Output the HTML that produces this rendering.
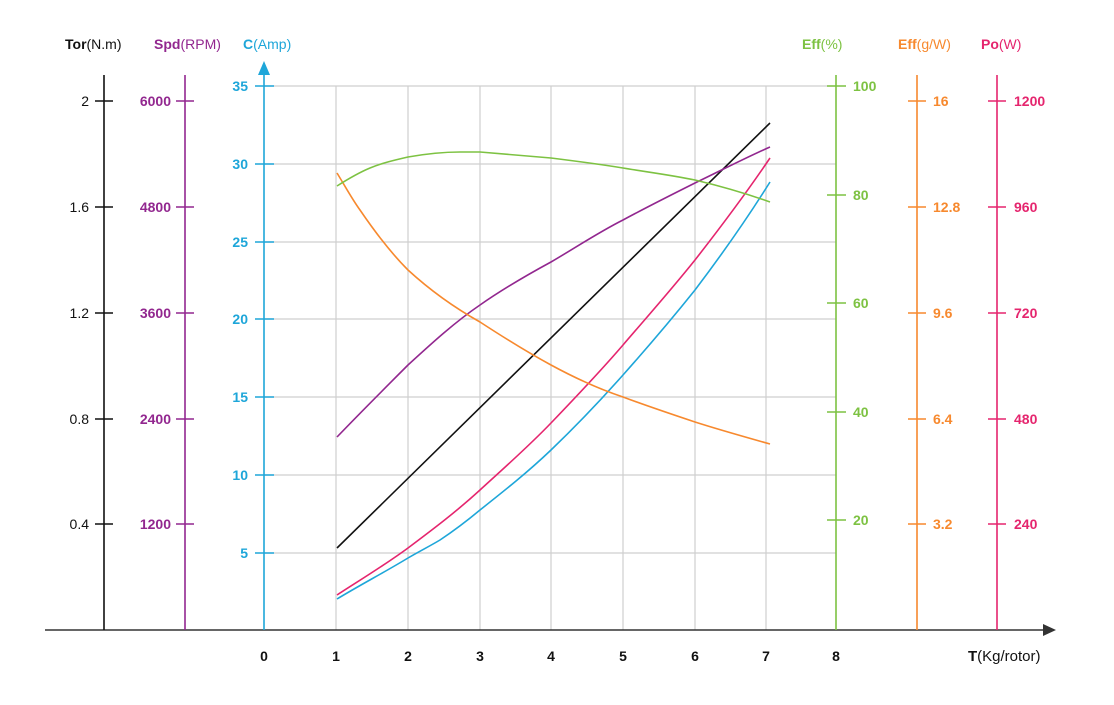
<!DOCTYPE html>
<html><head><meta charset="utf-8"><style>
html,body{margin:0;padding:0;background:#fff;}
svg text{font-family:"Liberation Sans",sans-serif;font-size:14px;}
</style></head><body>
<svg width="1114" height="700" viewBox="0 0 1114 700" xmlns="http://www.w3.org/2000/svg">
<!-- grid -->
<g stroke="#cfcfcf" stroke-width="1.2">
<line x1="336" y1="86" x2="336" y2="630"/><line x1="408" y1="86" x2="408" y2="630"/>
<line x1="480" y1="86" x2="480" y2="630"/><line x1="551" y1="86" x2="551" y2="630"/>
<line x1="623" y1="86" x2="623" y2="630"/><line x1="695" y1="86" x2="695" y2="630"/>
<line x1="766" y1="86" x2="766" y2="630"/>
<line x1="264" y1="86" x2="836" y2="86"/><line x1="264" y1="164" x2="836" y2="164"/>
<line x1="264" y1="242" x2="836" y2="242"/><line x1="264" y1="319" x2="836" y2="319"/>
<line x1="264" y1="397" x2="836" y2="397"/><line x1="264" y1="475" x2="836" y2="475"/>
<line x1="264" y1="553" x2="836" y2="553"/>
</g>
<!-- x axis -->
<line x1="45" y1="630" x2="1048" y2="630" stroke="#333" stroke-width="1.5"/>
<polygon points="1056,630 1043,624 1043,636" fill="#333"/>
<g font-weight="bold" fill="#111" text-anchor="middle" style="font-size:15px">
<text x="264" y="661">0</text><text x="336" y="661">1</text><text x="408" y="661">2</text><text x="480" y="661">3</text><text x="551" y="661">4</text><text x="623" y="661">5</text><text x="695" y="661">6</text><text x="766" y="661">7</text><text x="836" y="661">8</text>
</g>
<text x="968" y="661" fill="#111" style="font-size:15px"><tspan font-weight="bold">T</tspan>(Kg/rotor)</text>
<!-- Tor -->
<g stroke="#111" stroke-width="1.6"><line x1="104" y1="75" x2="104" y2="630"/>
<line x1="95" y1="101" x2="113" y2="101"/><line x1="95" y1="207" x2="113" y2="207"/><line x1="95" y1="313" x2="113" y2="313"/><line x1="95" y1="419" x2="113" y2="419"/><line x1="95" y1="524" x2="113" y2="524"/></g>
<g fill="#111" text-anchor="end"><text x="89" y="106">2</text><text x="89" y="212">1.6</text><text x="89" y="318">1.2</text><text x="89" y="424">0.8</text><text x="89" y="529">0.4</text></g>
<text x="65" y="49" fill="#111"><tspan font-weight="bold">Tor</tspan>(N.m)</text>
<!-- Spd -->
<g stroke="#92278f" stroke-width="1.6"><line x1="185" y1="75" x2="185" y2="630"/>
<line x1="176" y1="101" x2="194" y2="101"/><line x1="176" y1="207" x2="194" y2="207"/><line x1="176" y1="313" x2="194" y2="313"/><line x1="176" y1="419" x2="194" y2="419"/><line x1="176" y1="524" x2="194" y2="524"/></g>
<g fill="#92278f" text-anchor="end" font-weight="bold"><text x="171" y="106">6000</text><text x="171" y="212">4800</text><text x="171" y="318">3600</text><text x="171" y="424">2400</text><text x="171" y="529">1200</text></g>
<text x="154" y="49" fill="#92278f"><tspan font-weight="bold">Spd</tspan>(RPM)</text>
<!-- Amp -->
<g stroke="#1ea6d9" stroke-width="1.6"><line x1="264" y1="70" x2="264" y2="630"/>
<line x1="255" y1="86" x2="274" y2="86"/><line x1="255" y1="164" x2="274" y2="164"/><line x1="255" y1="242" x2="274" y2="242"/><line x1="255" y1="319" x2="274" y2="319"/><line x1="255" y1="397" x2="274" y2="397"/><line x1="255" y1="475" x2="274" y2="475"/><line x1="255" y1="553" x2="274" y2="553"/></g>
<polygon points="264,61 258,75 270,75" fill="#1ea6d9"/>
<g fill="#1ea6d9" text-anchor="end" font-weight="bold"><text x="248" y="91">35</text><text x="248" y="169">30</text><text x="248" y="247">25</text><text x="248" y="324">20</text><text x="248" y="402">15</text><text x="248" y="480">10</text><text x="248" y="558">5</text></g>
<text x="243" y="49" fill="#1ea6d9"><tspan font-weight="bold">C</tspan>(Amp)</text>
<!-- Eff% -->
<g stroke="#7dc242" stroke-width="1.6"><line x1="836" y1="75" x2="836" y2="630"/>
<line x1="827" y1="86" x2="846" y2="86"/><line x1="827" y1="195" x2="846" y2="195"/><line x1="827" y1="303" x2="846" y2="303"/><line x1="827" y1="412" x2="846" y2="412"/><line x1="827" y1="520" x2="846" y2="520"/></g>
<g fill="#7dc242" font-weight="bold"><text x="853" y="91">100</text><text x="853" y="200">80</text><text x="853" y="308">60</text><text x="853" y="417">40</text><text x="853" y="525">20</text></g>
<text x="802" y="49" fill="#7dc242"><tspan font-weight="bold">Eff</tspan>(%)</text>
<!-- g/W -->
<g stroke="#f7892e" stroke-width="1.6"><line x1="917" y1="75" x2="917" y2="630"/>
<line x1="908" y1="101" x2="926" y2="101"/><line x1="908" y1="207" x2="926" y2="207"/><line x1="908" y1="313" x2="926" y2="313"/><line x1="908" y1="419" x2="926" y2="419"/><line x1="908" y1="524" x2="926" y2="524"/></g>
<g fill="#f7892e" font-weight="bold"><text x="933" y="106">16</text><text x="933" y="212">12.8</text><text x="933" y="318">9.6</text><text x="933" y="424">6.4</text><text x="933" y="529">3.2</text></g>
<text x="898" y="49" fill="#f7892e"><tspan font-weight="bold">Eff</tspan>(g/W)</text>
<!-- Po -->
<g stroke="#e5256e" stroke-width="1.6"><line x1="997" y1="75" x2="997" y2="630"/>
<line x1="988" y1="101" x2="1006" y2="101"/><line x1="988" y1="207" x2="1006" y2="207"/><line x1="988" y1="313" x2="1006" y2="313"/><line x1="988" y1="419" x2="1006" y2="419"/><line x1="988" y1="524" x2="1006" y2="524"/></g>
<g fill="#e5256e" font-weight="bold"><text x="1014" y="106">1200</text><text x="1014" y="212">960</text><text x="1014" y="318">720</text><text x="1014" y="424">480</text><text x="1014" y="529">240</text></g>
<text x="981" y="49" fill="#e5256e"><tspan font-weight="bold">Po</tspan>(W)</text>
<!-- curves -->
<g fill="none" stroke-width="1.6">
<path d="M337,548 L770,123" stroke="#111"/>
<path d="M337,437 C360,413 385,388 408,365 C432,343 455,322 480,305 C503,289 527,275 551,262 C575,248 599,232 623,220 C647,207 671,195 695,183 C720,171 745,158 770,147" stroke="#92278f"/>
<path d="M337,595 C360,580 385,565 408,548 C432,530 456,512 480,490 C504,468 528,447 551,423 C575,398 599,373 623,345 C647,317 671,290 695,260 C720,228 745,195 770,158" stroke="#e5256e"/>
<path d="M337,599 C360,585 385,572 408,558 C420,551 430,546 440,540 C455,530 468,520 480,510 C504,491 528,472 551,450 C575,427 599,402 623,375 C647,348 671,320 695,290 C720,257 745,222 770,182" stroke="#1ea6d9"/>
<path d="M337,173 C345,186 352,199 360,210 C375,232 390,252 408,270 C432,292 455,308 480,322 C503,337 527,352 551,365 C575,378 599,389 623,397 C647,406 671,414 695,422 C720,430 745,437 770,444" stroke="#f7892e"/>
<path d="M337,186 C348,179 358,173 370,168 C382,163 395,160 408,157 C425,154 443,152 460,152 L480,152 C503,154 527,156 551,158 C575,161 599,164 623,168 C647,172 671,175 695,180 C720,186 745,193 770,202" stroke="#7dc242"/>
</g>
</svg>
</body></html>
